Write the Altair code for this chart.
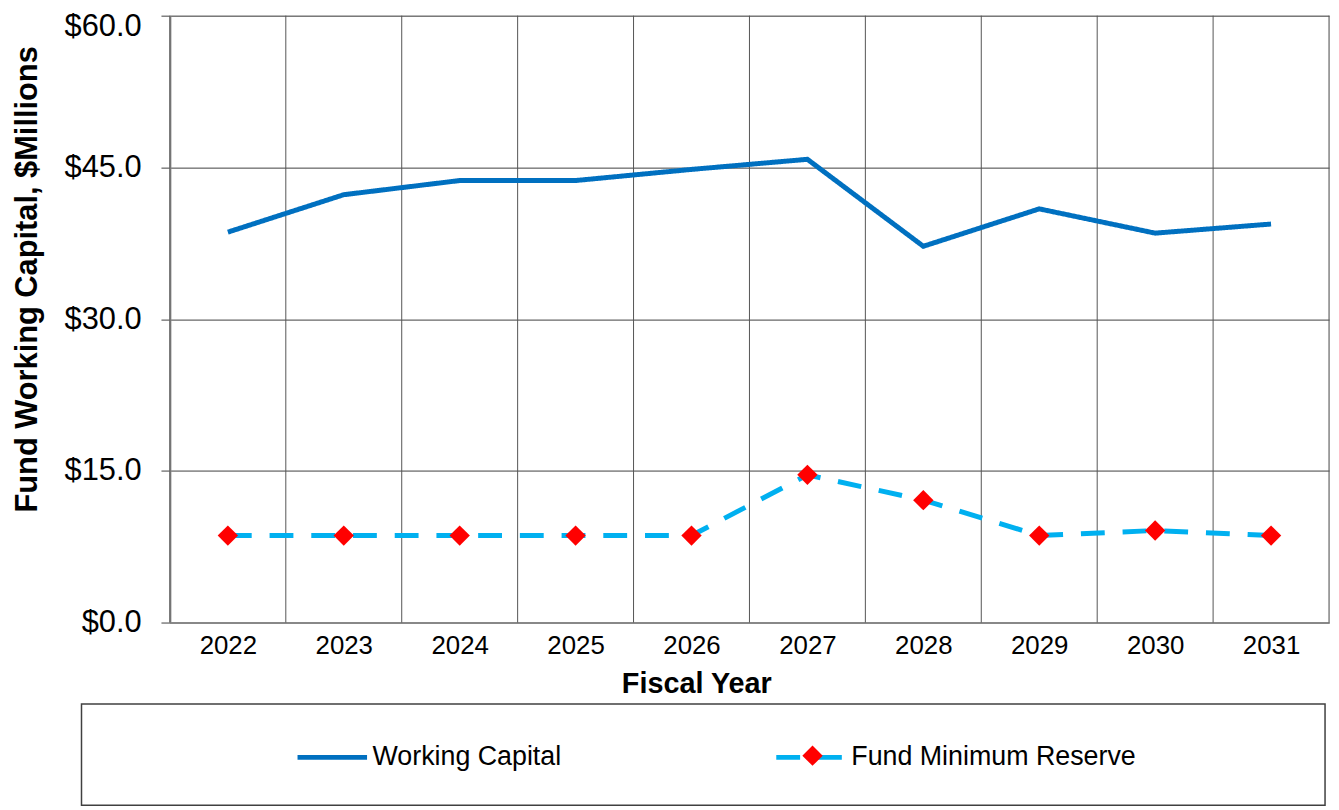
import altair as alt
import pandas as pd

years = [2022, 2023, 2024, 2025, 2026, 2027, 2028, 2029, 2030, 2031]
working_capital = [38.6, 42.3, 43.7, 43.7, 44.8, 45.8, 37.2, 40.9, 38.5, 39.4]
min_reserve = [8.6, 8.6, 8.6, 8.6, 8.6, 14.6, 12.1, 8.6, 9.1, 8.6]
series_names = ["Working Capital", "Fund Minimum Reserve"]
y_ticks = [0, 15, 30, 45, 60]

FONT = "Liberation Sans"

rows = []
for y, v in zip(years, working_capital):
    rows.append({"year": y, "value": v, "series": series_names[0]})
for y, v in zip(years, min_reserve):
    rows.append({"year": y, "value": v, "series": series_names[1]})
df = pd.DataFrame(rows)
df_res = df[df.series == series_names[1]].copy()
df_res["marker"] = df_res["series"]

bounds = pd.DataFrame({"year": [y - 0.5 for y in years] + [years[-1] + 0.5]})

x_scale = alt.Scale(domain=[years[0] - 0.5, years[-1] + 0.5], nice=False, zero=False)
y_scale = alt.Scale(domain=[0, 60], nice=False)

x_axis = alt.Axis(values=years, format="d", title="Fiscal Year", grid=False, ticks=False, tickSize=0,
                  labelFont=FONT, labelFontSize=26, labelColor="black", labelPadding=10,
                  labelFlush=False, labelOverlap=False,
                  titleFont=FONT, titleFontSize=29, titleFontWeight="bold", titleColor="black",
                  titlePadding=11, titleX=530, titleAlign="center",
                  domainColor="#888888", domainWidth=2)

y_axis = alt.Axis(values=y_ticks, format="$.1f", title="Fund Working Capital, $Millions",
                  grid=True, gridColor="#404040", gridWidth=1,
                  tickColor="#404040", tickSize=9, tickWidth=1,
                  labelFont=FONT, labelFontSize=31, labelColor="black", labelPadding=20,
                  labelFlush=False,
                  labelOffset={"condition": {"test": "datum.value == 60", "value": 11}, "value": 0},
                  titleFont=FONT, titleFontSize=31, titleFontWeight="bold", titleColor="black",
                  titlePadding=21, titleY=265, titleAlign="center",
                  domainColor="#888888", domainWidth=2)

legend_common = dict(
    title=None, orient="none", legendX=126, legendY=709, direction="horizontal",
    symbolType="stroke", symbolSize=4900, symbolStrokeWidth=5,
    labelFont=FONT, labelFontSize=27, labelColor="black", labelOffset=3,
    columnPadding=205, padding=0, labelLimit=0,
)

box = alt.Chart(pd.DataFrame({"k": [0]})).mark_rect(
    fill="white", stroke="#404040", strokeWidth=1.5
).encode(
    x=alt.value(-89), x2=alt.value(1163), y=alt.value(693), y2=alt.value(795)
)

vgrid = alt.Chart(bounds).mark_rule(color="#555555", strokeWidth=1).encode(
    x=alt.X("year:Q", scale=x_scale, axis=x_axis)
)

lines = alt.Chart(df).mark_line(strokeWidth=5, strokeCap="butt").encode(
    x=alt.X("year:Q", scale=x_scale, axis=x_axis),
    y=alt.Y("value:Q", scale=y_scale, axis=y_axis),
    color=alt.Color(
        "series:N",
        scale=alt.Scale(domain=series_names, range=["#0070C0", "#00B0F0"]),
        legend=alt.Legend(**legend_common),
    ),
    strokeDash=alt.StrokeDash(
        "series:N",
        scale=alt.Scale(domain=series_names, range=[[1, 0], [24, 18]]),
        legend=alt.Legend(**legend_common),
    ),
)

points = alt.Chart(df_res).mark_point(filled=True, color="#FF0000", size=420, opacity=1).encode(
    x=alt.X("year:Q", scale=x_scale, axis=x_axis),
    y=alt.Y("value:Q", scale=y_scale, axis=y_axis),
    shape=alt.Shape(
        "marker:N",
        scale=alt.Scale(domain=[series_names[1]], range=["diamond"]),
        legend=alt.Legend(
            title=None, orient="none", legendX=636, legendY=734,
            symbolFillColor="#FF0000", symbolStrokeColor="#FF0000", symbolSize=420,
            symbolOpacity=1, labelExpr="''", padding=0,
        ),
    ),
)

chart = alt.layer(box, vgrid, lines, points).properties(
    width=1167, height=611,
    autosize=alt.AutoSizeParams(type="none"),
    padding={"left": 163, "top": 5, "right": 2, "bottom": 185},
).configure_view(stroke="#888888", strokeWidth=2).configure(background="white")

chart.save("out.html", embed_options={"renderer": "svg", "actions": False})
